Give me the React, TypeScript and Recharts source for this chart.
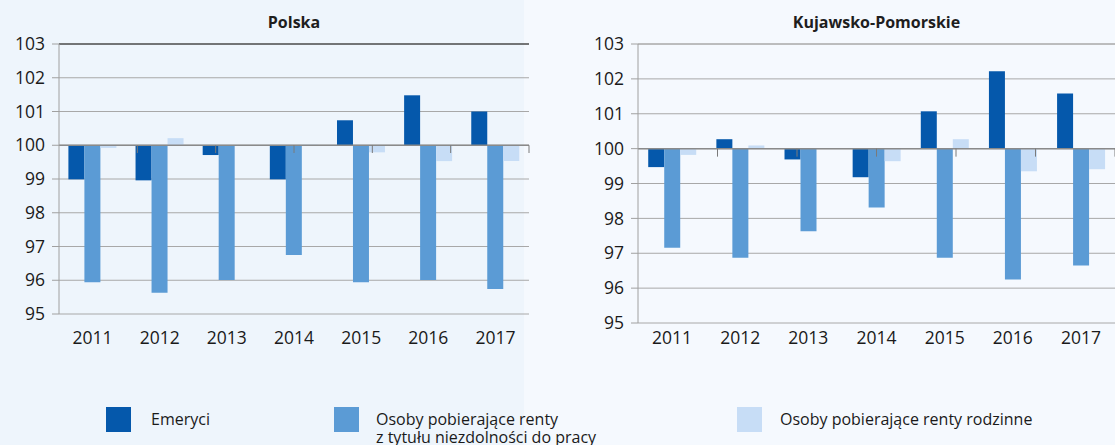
import React from 'react';
import { BarChart, Bar, XAxis, YAxis, CartesianGrid, ReferenceLine } from 'recharts';

const years = ['2011', '2012', '2013', '2014', '2015', '2016', '2017'];
const yTicks = [95, 96, 97, 98, 99, 100, 101, 102, 103];

// Polska
const plEmeryci = [98.99, 98.96, 99.71, 98.99, 100.74, 101.48, 101.0];
const plNiezdolnosc = [95.94, 95.63, 96.01, 96.75, 95.94, 96.01, 95.74];
const plRodzinne = [99.92, 100.21, 100.0, 100.02, 99.79, 99.53, 99.53];

// Kujawsko-Pomorskie
const kpEmeryci = [99.47, 100.27, 99.69, 99.18, 101.07, 102.22, 101.58];
const kpNiezdolnosc = [97.16, 96.87, 97.63, 98.31, 96.87, 96.25, 96.65];
const kpRodzinne = [99.82, 100.09, 100.0, 99.64, 100.27, 99.35, 99.41];

const legendItems = [
  { label: 'Emeryci', color: '#0558ab', left: 106, textLeft: 151 },
  { label: 'Osoby pobierające renty\nz tytułu niezdolności do pracy', color: '#5b9bd5', left: 334, textLeft: 376 },
  { label: 'Osoby pobierające renty rodzinne', color: '#c7ddf6', left: 737, textLeft: 780 },
];

type Row = { year: string; em: number; niez: number; rodz: number };

const buildRows = (em: number[], niez: number[], rodz: number[]): Row[] =>
  years.map((year, i) => ({ year, em: em[i], niez: niez[i], rodz: rodz[i] }));

// bars hang from the 100 line, so draw them as ranges
const span = (v: number): [number, number] => (v < 100 ? [v, 100] : [100, v]);

const FONT = '"Open Sans", sans-serif';

type ChartProps = {
  title: string;
  rows: Row[];
  left: number;
  width: number;
  axisWidth: number;
  marginRight: number;
  marginBottom: number;
  tickMargin: number;
  gap: string;
  topStroke: string;
};

function RegionChart(p: ChartProps) {
  const plotLeft = p.axisWidth;
  const plotRight = p.width - p.marginRight;
  return (
    <div style={{ position: 'absolute', left: p.left, top: 0, width: p.width, height: 370 }}>
      <div
        style={{
          position: 'absolute',
          left: plotLeft,
          width: plotRight - plotLeft,
          top: 11,
          textAlign: 'center',
          fontWeight: 700,
          fontSize: 16,
          color: '#1e1e1e',
        }}
      >
        {p.title}
      </div>
      <BarChart
        width={p.width}
        height={370}
        data={p.rows}
        margin={{ top: 44, right: p.marginRight, left: 0, bottom: p.marginBottom }}
        barCategoryGap={p.gap}
        barGap={0}
      >
        <CartesianGrid horizontal vertical={false} stroke="#a8a8a8" />
        <XAxis
          dataKey="year"
          tickLine={false}
          axisLine={false}
          height={30}
          tickMargin={p.tickMargin}
          tick={{ fill: '#1a1a1a', fontSize: 17.5 }}
        />
        <XAxis xAxisId="edge" type="number" domain={[0, years.length]} hide />
        <YAxis
          domain={[95, 103]}
          ticks={yTicks}
          interval={0}
          width={p.axisWidth}
          tickSize={7}
          tickMargin={7}
          axisLine={{ stroke: '#a0a0a0' }}
          tickLine={{ stroke: '#a0a0a0' }}
          tick={{ fill: '#1a1a1a', fontSize: 17.5 }}
        />
        <Bar dataKey={(d: Row) => span(d.em)} fill="#0558ab" isAnimationActive={false} />
        <Bar dataKey={(d: Row) => span(d.niez)} fill="#5b9bd5" isAnimationActive={false} />
        <Bar dataKey={(d: Row) => span(d.rodz)} fill="#c7ddf6" isAnimationActive={false} />
        <ReferenceLine y={103} stroke={p.topStroke} />
        <ReferenceLine y={100} stroke="#8a8a8a" strokeWidth={1.5} />
        {years.map((_, i) => (
          <ReferenceLine
            key={i}
            xAxisId="edge"
            segment={[
              { x: i + 1, y: 100 },
              { x: i + 1, y: 99.77 },
            ]}
            stroke="#7a7a7a"
          />
        ))}
      </BarChart>
    </div>
  );
}

export default function App() {
  return (
    <div
      style={{
        position: 'absolute',
        left: 0,
        top: 0,
        width: 1115,
        height: 445,
        overflow: 'hidden',
        background: '#f5f9fe',
        fontFamily: FONT,
      }}
    >
      <div style={{ position: 'absolute', left: 0, top: 0, width: 524, height: 445, background: '#eef5fc' }} />
      <RegionChart
        title="Polska"
        rows={buildRows(plEmeryci, plNiezdolnosc, plRodzinne)}
        left={0}
        width={540}
        axisWidth={59}
        marginRight={11}
        marginBottom={26}
        tickMargin={12}
        gap="14%"
        topStroke="#1a1a1a"
      />
      <RegionChart
        title="Kujawsko-Pomorskie"
        rows={buildRows(kpEmeryci, kpNiezdolnosc, kpRodzinne)}
        left={570}
        width={545}
        axisWidth={68}
        marginRight={0}
        marginBottom={17}
        tickMargin={3}
        gap="15%"
        topStroke="#a8a8a8"
      />
      {legendItems.map((it) => (
        <React.Fragment key={it.label}>
          <div style={{ position: 'absolute', left: it.left, top: 407, width: 25, height: 25, background: it.color }} />
          <div
            style={{
              position: 'absolute',
              left: it.textLeft,
              top: 410,
              fontSize: 16,
              lineHeight: '18px',
              color: '#1a1a1a',
              whiteSpace: 'pre',
            }}
          >
            {it.label}
          </div>
        </React.Fragment>
      ))}
    </div>
  );
}
